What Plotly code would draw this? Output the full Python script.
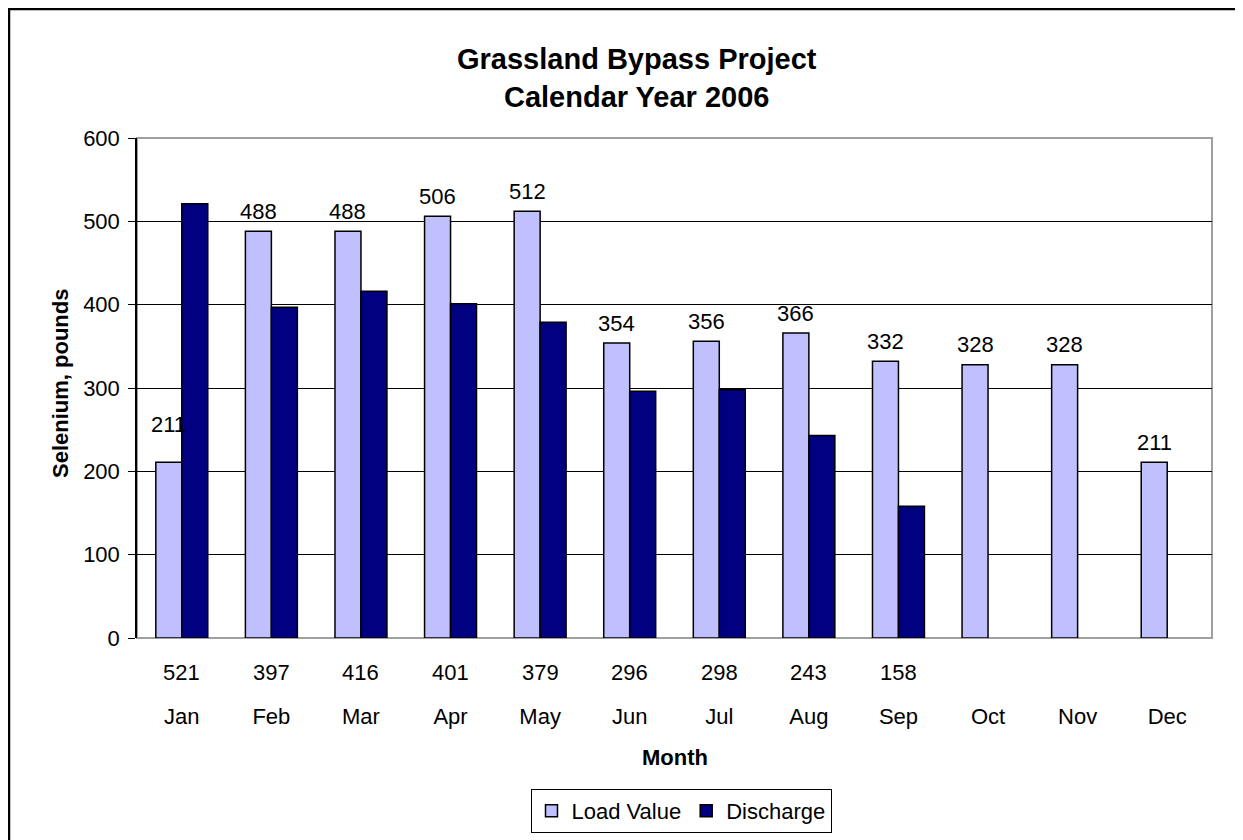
import plotly.graph_objects as go

months = ["Jan", "Feb", "Mar", "Apr", "May", "Jun", "Jul", "Aug", "Sep", "Oct", "Nov", "Dec"]
load_value = [211, 488, 488, 506, 512, 354, 356, 366, 332, 328, 328, 211]
discharge = [521, 397, 416, 401, 379, 296, 298, 243, 158, None, None, None]
y_ticks = [0, 100, 200, 300, 400, 500, 600]

W_PX, H_PX = 1243, 840
OFF = 8  # page body margin
L, R, T, B = 137 - OFF, 1212 - OFF, 138 - OFF, 638 - OFF
PW, PH = R - L, B - T


def px_x(px):
    return (px - OFF - L) / PW


def px_y(py):
    return (B - (py - OFF)) / PH


FONT = "Liberation Sans, Arial, sans-serif"
LIGHT = "#C0C0FF"
NAVY = "#000080"

fig = go.Figure()
fig.add_trace(go.Bar(x=months, y=load_value, name="Load Value",
                     marker=dict(color=LIGHT, line=dict(color="black", width=1.5))))
fig.add_trace(go.Bar(x=months, y=discharge, name="Discharge",
                     marker=dict(color=NAVY, line=dict(color="black", width=1.5))))

annotations = []
for i, (m, v) in enumerate(zip(months, load_value)):
    extra = 18 if i == 0 else 0
    annotations.append(dict(x=m, y=v, xref="x", yref="y", text=str(v), showarrow=False,
                            xanchor="center", yanchor="middle",
                            xshift=-13, yshift=20 + extra, font=dict(size=22, color="black")))
for m, d in zip(months, discharge):
    if d is not None:
        annotations.append(dict(x=m, y=0, xref="x", yref="y", text=str(d), showarrow=False,
                                xanchor="center", yanchor="middle",
                                yshift=-34, font=dict(size=22, color="black")))

annotations.append(dict(x=px_x(637), y=px_y(78), xref="paper", yref="paper",
                        xanchor="center", yanchor="middle",
                        text="<b>Grassland Bypass Project<br>Calendar Year 2006</b>",
                        showarrow=False, font=dict(size=29, color="black")))
annotations.append(dict(x=px_x(60), y=px_y(384), xref="paper", yref="paper",
                        xanchor="center", yanchor="middle",
                        text="<b>Selenium, pounds</b>", textangle=-90,
                        showarrow=False, font=dict(size=22, color="black")))
annotations.append(dict(x=px_x(675), y=px_y(757), xref="paper", yref="paper",
                        xanchor="center", yanchor="middle",
                        text="<b>Month</b>", showarrow=False, font=dict(size=22, color="black")))

shapes = [
    dict(type="rect", xref="paper", yref="paper", x0=px_x(9), y0=px_y(9),
         x1=px_x(1270), y1=px_y(870), line=dict(color="black", width=2.5), layer="below"),
    dict(type="rect", xref="paper", yref="paper", x0=0, y0=0, x1=1, y1=1,
         line=dict(color="#A0A0A0", width=2), layer="below"),
]

fig.update_layout(
    width=W_PX, height=H_PX,
    margin=dict(l=L, r=W_PX - R, t=T, b=H_PX - B),
    paper_bgcolor="white", plot_bgcolor="white",
    barmode="group", bargap=0.42, bargroupgap=0,
    font=dict(family=FONT, size=22, color="black"),
    showlegend=True,
    legend=dict(orientation="h", x=px_x(681), y=px_y(811), xanchor="center", yanchor="middle",
                bordercolor="black", borderwidth=1, font=dict(size=22),
                itemwidth=30, traceorder="normal"),
    annotations=annotations,
    shapes=shapes,
)
fig.update_xaxes(showgrid=False, showline=False, ticks="",
                 tickfont=dict(size=22), ticklabelstandoff=63, zeroline=False)
fig.update_yaxes(range=[0, 600], tickvals=y_ticks, showgrid=True, gridcolor="black", gridwidth=1,
                 showline=True, linecolor="black", linewidth=1.5, ticks="outside", ticklen=7,
                 tickcolor="black", tickfont=dict(size=22), ticklabelstandoff=4, zeroline=False)

fig.write_html("out.html")
